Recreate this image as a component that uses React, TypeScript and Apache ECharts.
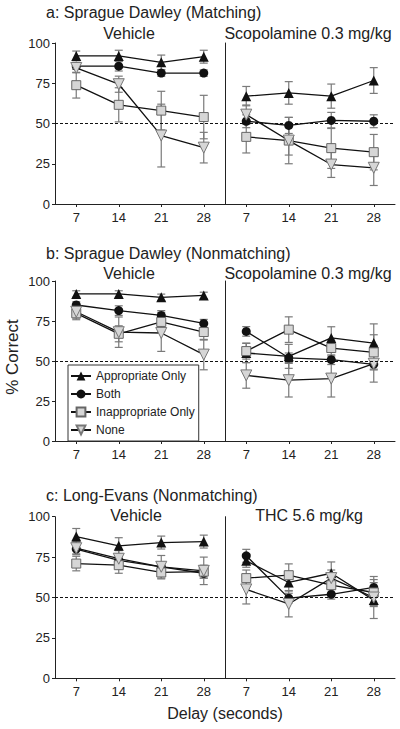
import React, { useEffect, useRef } from "react";
import * as echarts from "echarts";

const delays = ["7", "14", "21", "28"];
const yTicks = [0, 25, 50, 75, 100];
const groupNames = ["Appropriate Only", "Both", "Inappropriate Only", "None"];

// Panel a: Sprague Dawley (Matching)
const aVehApp = [92, 92, 88, 91.5];
const aVehAppErr = [3, 3.5, 4.5, 4];
const aVehBoth = [85.6, 85.6, 81.3, 81.3];
const aVehBothErr = [2, 3, 2, 2];
const aVehInap = [73.8, 61.6, 58, 54];
const aVehInapErr = [8, 10.6, 12, 13.5];
const aVehNone = [84.5, 74.4, 42.5, 35];
const aVehNoneErr = [3, 5, 19.5, 9.5];

const aScoApp = [67, 69, 67, 76.7];
const aScoAppErr = [6, 7, 7.5, 8];
const aScoBoth = [51.4, 48.8, 51.9, 51.4];
const aScoBothErr = [4, 5, 5, 4];
const aScoInap = [41.7, 39.4, 34.7, 32.2];
const aScoInapErr = [10, 9, 12.6, 11];
const aScoNone = [55.5, 39.4, 24.5, 22.5];
const aScoNoneErr = [6, 14.4, 8, 11];

// Panel b: Sprague Dawley (Nonmatching)
const bVehApp = [91.9, 91.9, 89.8, 91];
const bVehAppErr = [2, 2, 2, 2];
const bVehBoth = [85, 81.5, 78.5, 73.5];
const bVehBothErr = [2, 3, 3, 2.5];
const bVehInap = [79.8, 67, 74.4, 68.1];
const bVehInapErr = [4, 5, 6, 5];
const bVehNone = [80.8, 68, 67.5, 54];
const bVehNoneErr = [4, 9.5, 11.5, 9.5];

const bScoApp = [55, 52.9, 64.4, 61.2];
const bScoAppErr = [6, 7.5, 7, 12];
const bScoBoth = [68.5, 52, 50.8, 47.9];
const bScoBothErr = [3, 3, 3, 3];
const bScoInap = [56.2, 69.6, 58.1, 55.4];
const bScoInapErr = [5, 8, 5, 11];
const bScoNone = [41, 38, 39, 48.3];
const bScoNoneErr = [8, 10.5, 11.5, 11.5];

// Panel c: Long-Evans (Nonmatching)
const cVehApp = [87.7, 82, 84, 84.6];
const cVehAppErr = [5, 5, 4, 4];
const cVehBoth = [80, 73, 69, 65];
const cVehBothErr = [3, 3, 3, 3];
const cVehInap = [71, 70, 65.5, 66];
const cVehInapErr = [4.5, 5, 4, 4];
const cVehNone = [80.5, 74, 69, 66.5];
const cVehNoneErr = [4, 5, 7, 8.5];

const cThcApp = [72.7, 59.3, 65, 48.4];
const cThcAppErr = [4, 5, 7, 4];
const cThcBoth = [75.8, 49.6, 52, 56.2];
const cThcBothErr = [4, 3, 3, 3];
const cThcInap = [62, 63.8, 57.6, 53.1];
const cThcInapErr = [5, 7, 5, 8];
const cThcNone = [55, 46, 62, 50];
const cThcNoneErr = [9, 8, 5, 13];

const FONT = "Liberation Sans";

export default function App() {
  const ref = useRef<HTMLDivElement>(null);

  useEffect(() => {
    if (!ref.current) return;
    const chart = echarts.init(ref.current, null, { renderer: "svg" });

    const panels = [
      { top: 43, height: 161, sets: [
        [aVehApp, aVehAppErr, aVehBoth, aVehBothErr, aVehInap, aVehInapErr, aVehNone, aVehNoneErr],
        [aScoApp, aScoAppErr, aScoBoth, aScoBothErr, aScoInap, aScoInapErr, aScoNone, aScoNoneErr],
      ] },
      { top: 281, height: 160, sets: [
        [bVehApp, bVehAppErr, bVehBoth, bVehBothErr, bVehInap, bVehInapErr, bVehNone, bVehNoneErr],
        [bScoApp, bScoAppErr, bScoBoth, bScoBothErr, bScoInap, bScoInapErr, bScoNone, bScoNoneErr],
      ] },
      { top: 516.7, height: 161.6, sets: [
        [cVehApp, cVehAppErr, cVehBoth, cVehBothErr, cVehInap, cVehInapErr, cVehNone, cVehNoneErr],
        [cThcApp, cThcAppErr, cThcBoth, cThcBothErr, cThcInap, cThcInapErr, cThcNone, cThcNoneErr],
      ] },
    ];

    const symbolStyles = [
      { symbol: "triangle", symbolSize: 10, symbolRotate: 0, itemStyle: { color: "#111", borderColor: "#111", borderWidth: 0 } },
      { symbol: "circle", symbolSize: 9, symbolRotate: 0, itemStyle: { color: "#111", borderColor: "#111", borderWidth: 0 } },
      { symbol: "rect", symbolSize: 9, symbolRotate: 0, itemStyle: { color: "#d6d6d6", borderColor: "#666", borderWidth: 1 } },
      { symbol: "triangle", symbolSize: 11, symbolRotate: 180, itemStyle: { color: "#d6d6d6", borderColor: "#777", borderWidth: 1 } },
    ];

    const grids: any[] = [];
    const xAxes: any[] = [];
    const yAxes: any[] = [];
    const series: any[] = [];

    const errRender = (params: any, api: any) => {
      const x = api.value(0);
      const m = api.value(1);
      const e = api.value(2);
      const t = api.coord([x, m + e]);
      const b = api.coord([x, m - e]);
      const hw = 4;
      const st = { stroke: "#7a7a7a", lineWidth: 1.2 };
      return {
        type: "group",
        children: [
          { type: "line", shape: { x1: t[0], y1: t[1], x2: b[0], y2: b[1] }, style: st },
          { type: "line", shape: { x1: t[0] - hw, y1: t[1], x2: t[0] + hw, y2: t[1] }, style: st },
          { type: "line", shape: { x1: b[0] - hw, y1: b[1], x2: b[0] + hw, y2: b[1] }, style: st },
        ],
      };
    };

    panels.forEach((p, pi) => {
      p.sets.forEach((set, si) => {
        const gi = grids.length;
        grids.push({ left: si === 0 ? 55 : 225, top: p.top, width: 170, height: p.height });
        xAxes.push({
          type: "category",
          gridIndex: gi,
          data: delays,
          boundaryGap: true,
          axisLine: { show: true, lineStyle: { color: "#222", width: 1 } },
          axisTick: { show: true, alignWithLabel: true, length: 3, lineStyle: { color: "#222" } },
          axisLabel: { show: true, fontSize: 13, color: "#222", fontFamily: FONT, margin: 7 },
          splitLine: { show: false },
        });
        yAxes.push({
          type: "value",
          gridIndex: gi,
          min: 0,
          max: 100,
          interval: 25,
          axisLine: { show: true, lineStyle: { color: "#222", width: 1 } },
          axisTick: { show: si === 0, length: 3, lineStyle: { color: "#222" } },
          axisLabel: { show: si === 0, fontSize: 13, color: "#222", fontFamily: FONT, margin: 5 },
          splitLine: { show: false },
        });
        // error bars first
        for (let k = 0; k < 4; k++) {
          const vals = set[k * 2] as number[];
          const errs = set[k * 2 + 1] as number[];
          series.push({
            type: "custom",
            name: "err-" + pi + "-" + si + "-" + k,
            xAxisIndex: gi,
            yAxisIndex: gi,
            renderItem: errRender,
            encode: { x: 0, y: 1 },
            data: vals.map((v, i) => [i, v, errs[i]]),
            z: 1,
            silent: true,
          });
        }
        for (let k = 0; k < 4; k++) {
          const vals = set[k * 2] as number[];
          const s = symbolStyles[k];
          const ser: any = {
            type: "line",
            name: groupNames[k],
            xAxisIndex: gi,
            yAxisIndex: gi,
            data: vals,
            symbol: s.symbol,
            symbolSize: s.symbolSize,
            symbolRotate: s.symbolRotate,
            showAllSymbol: true,
            itemStyle: s.itemStyle,
            lineStyle: { color: "#111", width: 1.3 },
            z: 2,
          };
          if (k === 0) {
            ser.markLine = {
              silent: true,
              symbol: ["none", "none"],
              label: { show: false },
              lineStyle: { type: [3, 2], color: "#111", width: 1.2 },
              data: [{ yAxis: 50 }],
            };
          }
          series.push(ser);
        }
      });
    });

    const txt = (text: string, x: number, y: number, align: string, size = 16, extra: any = {}) => ({
      type: "text",
      x,
      y,
      style: { text, fontSize: size, fontFamily: FONT, fill: "#222", align, verticalAlign: "middle" },
      ...extra,
    });

    chart.setOption({
      animation: false,
      textStyle: { fontFamily: FONT },
      grid: grids,
      xAxis: xAxes,
      yAxis: yAxes,
      series,
      legend: {
        data: groupNames,
        orient: "vertical",
        left: 68,
        top: 365,
        width: 127,
        itemWidth: 20,
        itemHeight: 11,
        itemGap: 6,
        padding: [5, 4, 5, 2],
        borderColor: "#333",
        borderWidth: 1,
        selectedMode: false,
        textStyle: { fontSize: 12, fontFamily: FONT, color: "#222" },
      },
      graphic: [
        txt("a: Sprague Dawley (Matching)", 46, 12, "left"),
        txt("Vehicle", 129, 33, "center"),
        txt("Scopolamine 0.3 mg/kg", 308, 33, "center"),
        txt("b: Sprague Dawley (Nonmatching)", 46, 253, "left"),
        txt("Vehicle", 129, 273, "center"),
        txt("Scopolamine 0.3 mg/kg", 308, 273, "center"),
        txt("c: Long-Evans (Nonmatching)", 46, 495, "left"),
        txt("Vehicle", 136, 515, "center"),
        txt("THC 5.6 mg/kg", 309, 515, "center"),
        txt("Delay (seconds)", 225, 713, "center"),
        txt("% Correct", 12, 357, "center", 17, { rotation: Math.PI / 2 }),
      ],
    });

    return () => chart.dispose();
  }, []);

  return (
    <div
      ref={ref}
      style={{ position: "fixed", left: 0, top: 0, width: 400, height: 729, background: "#fff" }}
    />
  );
}
